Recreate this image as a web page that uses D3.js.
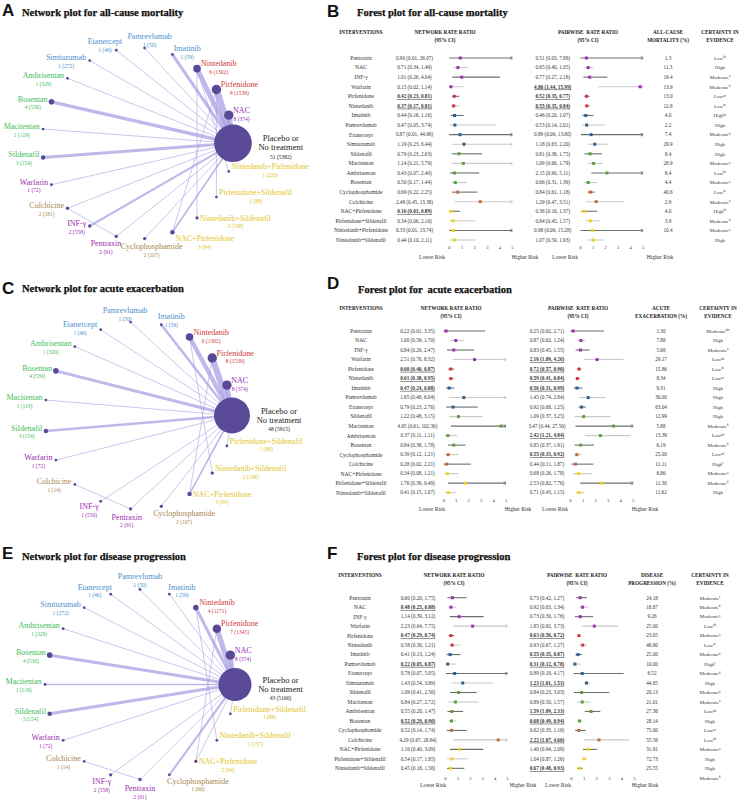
<!DOCTYPE html>
<html><head><meta charset="utf-8">
<script src="https://cdn.jsdelivr.net/npm/d3@7/dist/d3.min.js"></script>
<style>html,body{margin:0;padding:0;background:#fff;overflow:hidden}svg{display:block}</style>
</head><body>
<script>
// ---------------- DATA ----------------
const drugClass = {"Pentraxin":"pur","NAC":"pur","INF-γ":"pur","Warfarin":"pur","Pirfenidone":"red","Nintedanib":"red",
 "Imatinib":"blu","Pamrevlumab":"blu","Etanercept":"blu","Simtuzumab":"blu","Sildenafil":"grn","Macitentan":"grn",
 "Ambrisentan":"grn","Bosentan":"grn","Cyclophosphamide":"brn","Colchicine":"brn","NAC+Pirfenidone":"yel",
 "Pirfenidone+Sildenafil":"yel","Nintedanib+Pirfenidone":"yel","Nintedanib+Sildenafil":"yel","Placebo":"plc"};

// Network A: all-cause mortality
const A_nodes = ["Placebo","NAC","Pirfenidone","Nintedanib","Imatinib","Pamrevlumab","Etanercept","Simtuzumab","Ambrisentan","Bosentan","Macitentan","Sildenafil","Warfarin","Colchicine","INF-γ","Pentraxin","Cyclophosphamide","NAC+Pirfenidone","Nintedanib+Sildenafil","Pirfenidone+Sildenafil","Nintedanib+Pirfenidone"];
const A_studies = [51,8,8,6,1,1,1,1,1,4,1,3,1,2,2,2,2,3,2,1,1];
const A_participants = [5382,374,1539,1302,59,50,46,272,329,530,119,154,72,181,558,91,107,94,198,88,220];
const A_edges = [["Placebo","NAC",6.5],["Placebo","Pirfenidone",8],["Placebo","Nintedanib",5.5],["Placebo","Imatinib",3.5],
 ["Placebo","Pamrevlumab",1],["Placebo","Etanercept",1],["Placebo","Simtuzumab",1],["Placebo","Ambrisentan",1],
 ["Placebo","Bosentan",4],["Placebo","Macitentan",1],["Placebo","Sildenafil",3.5],["Placebo","Warfarin",1],
 ["Placebo","Colchicine",1],["Placebo","INF-γ",2.5],["Placebo","Pentraxin",1],["Placebo","Cyclophosphamide",1],
 ["Placebo","NAC+Pirfenidone",2],["Colchicine","Pentraxin",1],["Nintedanib","Nintedanib+Sildenafil",1],
 ["Nintedanib","Nintedanib+Pirfenidone",1],["Pirfenidone","Pirfenidone+Sildenafil",1],["Pirfenidone","NAC+Pirfenidone",1]];

// Network C: acute exacerbation
const C_nodes = ["Placebo","NAC","Pirfenidone","Nintedanib","Imatinib","Pamrevlumab","Etanercept","Ambrisentan","Bosentan","Macitentan","Sildenafil","Warfarin","Colchicine","INF-γ","Pentraxin","Cyclophosphamide","NAC+Pirfenidone","Nintedanib+Sildenafil","Pirfenidone+Sildenafil"];
const C_studies = [48,8,8,6,1,1,1,1,4,1,3,1,1,1,2,2,3,2,1];
const C_participants = [5915,374,1539,1302,59,50,46,329,530,119,154,72,14,550,91,107,94,198,88];
const C_edges = [["Placebo","NAC",5.5],["Placebo","Pirfenidone",7],["Placebo","Nintedanib",5],["Placebo","Imatinib",3],
 ["Placebo","Pamrevlumab",1],["Placebo","Etanercept",1],["Placebo","Ambrisentan",1],["Placebo","Bosentan",3.5],
 ["Placebo","Macitentan",1],["Placebo","Sildenafil",3],["Placebo","Warfarin",1],["Placebo","INF-γ",1],
 ["Placebo","Pentraxin",1],["Placebo","Cyclophosphamide",1],["Placebo","Pirfenidone+Sildenafil",1],
 ["Placebo","NAC+Pirfenidone",2],["Colchicine","Pentraxin",1],["Nintedanib","Nintedanib+Sildenafil",1],
 ["Pirfenidone","NAC+Pirfenidone",1]];

// Network E: disease progression
const E_nodes = ["Placebo","NAC","Pirfenidone","Nintedanib","Imatinib","Pamrevlumab","Etanercept","Simtuzumab","Ambrisentan","Bosentan","Macitentan","Sildenafil","Warfarin","Colchicine","INF-γ","Pentraxin","Cyclophosphamide","NAC+Pirfenidone","Nintedanib+Sildenafil","Pirfenidone+Sildenafil"];
const E_studies = [43,8,7,4,1,1,1,1,1,4,1,3,1,1,2,2,1,2,1,1];
const E_participants = [5160,374,1345,1171,59,50,46,272,329,530,119,154,72,14,558,91,60,94,137,88];
const E_edges = [["Placebo","NAC",4.5],["Placebo","Pirfenidone",6],["Placebo","Nintedanib",3.5],["Placebo","Imatinib",1],
 ["Placebo","Pamrevlumab",1],["Placebo","Etanercept",1],["Placebo","Simtuzumab",1],["Placebo","Ambrisentan",1],
 ["Placebo","Bosentan",3.5],["Placebo","Macitentan",2],["Placebo","Sildenafil",3.5],["Placebo","Warfarin",1],
 ["Placebo","INF-γ",1],["Placebo","Pentraxin",1],["Placebo","Cyclophosphamide",2.5],["Placebo","Pirfenidone+Sildenafil",1],
 ["Placebo","NAC+Pirfenidone",1],["Colchicine","Pentraxin",1],["Nintedanib","Nintedanib+Sildenafil",1],
 ["Pirfenidone","NAC+Pirfenidone",1]];

// Forest B: all-cause mortality  [estimate, lower, upper]
const B_names = ["Pentraxin","NAC","INF-γ","Warfarin","Pirfenidone","Nintedanib","Imatinib","Pamrevlumab","Etanercept","Simtuzumab","Sildenafil","Macitentan","Ambrisentan","Bosentan","Cyclophosphamide","Colchicine","NAC+Pirfenidone","Pirfenidone+Sildenafil","Nintedanib+Pirfenidone","Nintedanib+Sildenafil"];
const B_network = [[0.90,0.01,26.07],[0.71,0.34,1.49],[1.01,0.26,4.04],[0.15,0.02,1.14],[0.42,0.23,0.81],[0.37,0.17,0.81],[0.44,0.16,1.16],[0.47,0.05,3.74],[0.87,0.01,44.96],[1.19,0.23,6.44],[0.79,0.23,2.63],[1.14,0.21,5.79],[0.43,0.07,2.40],[0.50,0.17,1.44],[0.69,0.22,2.25],[2.48,0.45,13.38],[0.16,0.03,0.89],[0.34,0.06,2.10],[0.33,0.01,13.74],[0.44,0.10,2.11]];
const B_pairwise = [[0.51,0.03,7.88],[0.65,0.40,1.05],[0.77,0.27,2.18],[4.80,1.44,15.99],[0.52,0.35,0.77],[0.55,0.35,0.84],[0.46,0.20,1.07],[0.53,0.14,2.01],[0.89,0.06,13.80],[1.18,0.63,2.20],[0.81,0.38,1.75],[1.09,0.66,1.79],[2.15,0.90,5.11],[0.66,0.31,1.39],[0.84,0.61,1.18],[1.29,0.47,3.51],[0.36,0.10,1.37],[0.84,0.45,1.57],[0.98,0.06,15.28],[1.07,0.59,1.93]];
const B_percent = [1.3,11.3,19.4,13.9,13.0,12.8,4.0,2.2,7.4,29.9,8.4,28.9,8.4,4.4,40.6,2.9,4.0,3.9,10.4,null];
const B_certainty = ["Low","High","Moderate","Moderate","Low","Low","High","High","Moderate","High","High","Moderate","Low","Moderate","Low","Moderate","High","Moderate","Moderate","High"];
const B_notes = ["bc","","a","d","ac","ac","bc","","d","","","a","bc","a","ac","a","bc","d","a",""];

// Forest D: acute exacerbation
const D_names = ["Pentraxin","NAC","INF-γ","Warfarin","Pirfenidone","Nintedanib","Imatinib","Pamrevlumab","Etanercept","Sildenafil","Macitentan","Ambrisentan","Bosentan","Cyclophosphamide","Colchicine","NAC+Pirfenidone","Pirfenidone+Sildenafil","Nintedanib+Sildenafil"];
const D_network = [[0.22,0.01,3.35],[1.00,0.59,1.70],[0.84,0.29,2.47],[2.51,0.76,8.32],[0.60,0.40,0.87],[0.61,0.38,0.95],[0.47,0.24,0.88],[1.65,0.48,6.04],[0.79,0.23,2.76],[1.22,0.48,3.15],[4.65,0.61,102.36],[0.37,0.11,1.11],[0.84,0.38,1.78],[0.39,0.12,1.21],[0.28,0.02,2.21],[0.34,0.08,1.21],[1.76,0.39,9.49],[0.41,0.15,1.07]];
const D_pairwise = [[0.25,0.02,2.71],[0.87,0.62,1.24],[0.83,0.45,1.55],[2.16,1.09,4.26],[0.72,0.57,0.90],[0.59,0.41,0.84],[0.56,0.31,0.99],[1.45,0.74,2.84],[0.92,0.68,1.25],[1.09,0.37,3.25],[3.47,0.44,27.56],[2.42,1.21,4.84],[0.85,0.37,1.91],[0.55,0.33,0.92],[0.44,0.11,1.87],[0.68,0.26,1.78],[2.53,0.82,7.76],[0.71,0.43,1.15]];
const D_percent = [1.30,7.88,5.66,29.17,15.86,8.34,9.31,30.00,63.04,12.99,5.88,13.39,6.19,25.00,11.11,6.86,11.36,11.62];
const D_certainty = ["Moderate","High","Moderate","Low","Low","Low","High","High","High","High","Moderate","Low","Moderate","Low","High","Moderate","Moderate","High"];
const D_notes = ["abc","","a","ab","ac","ac","","","","","d","ab","d","ad","c","a","d",""];

// Forest F: disease progression
const F_names = ["Pentraxin","NAC","INF-γ","Warfarin","Pirfenidone","Nintedanib","Imatinib","Pamrevlumab","Etanercept","Simtuzumab","Sildenafil","Macitentan","Ambrisentan","Bosentan","Cyclophosphamide","Colchicine","NAC+Pirfenidone","Pirfenidone+Sildenafil","Nintedanib+Sildenafil"];
const F_network = [[0.60,0.20,1.75],[0.48,0.25,0.88],[1.14,0.39,3.12],[2.23,0.64,7.75],[0.47,0.29,0.74],[0.58,0.30,1.21],[0.41,0.13,1.24],[0.22,0.05,0.87],[0.78,0.07,5.95],[1.43,0.54,3.89],[1.09,0.41,2.56],[0.84,0.27,2.72],[0.55,0.20,1.47],[0.52,0.29,0.90],[0.52,0.14,1.74],[4.29,0.67,28.84],[1.16,0.40,3.09],[0.54,0.17,1.85],[0.45,0.16,1.56]];
const F_pairwise = [[0.73,0.42,1.27],[0.92,0.63,1.34],[0.73,0.30,1.76],[1.85,0.92,3.73],[0.63,0.56,0.72],[0.93,0.67,1.27],[0.55,0.35,0.87],[0.31,0.12,0.78],[0.89,0.19,4.17],[1.23,1.01,1.51],[0.84,0.23,3.03],[0.89,0.50,1.57],[1.59,1.09,2.33],[0.68,0.49,0.94],[0.62,0.33,1.16],[2.22,1.07,4.60],[1.40,0.94,2.09],[1.04,0.87,1.26],[0.67,0.48,0.93]];
const F_percent = [24.18,18.87,9.26,25.00,23.05,48.90,25.00,10.00,6.52,44.85,20.13,21.01,27.36,28.14,75.00,55.56,31.91,72.73,25.55];
const F_certainty = ["Moderate","Moderate","Moderate","Low","Moderate","Low","Moderate","High","Moderate","High","Moderate","Moderate","Low","High","Low","Low","Moderate","High","High","Moderate"];
const F_notes = ["c","d","a","ab","a","ac","d","c","d","","d","a","ab","","ac","ab","a","","","d"];

const axisTicks = [0,1,2,3,4,5];

// ---------------- DRAWING ----------------
const SERIF = '"Liberation Serif","Times New Roman",serif';
const SANS = '"Liberation Sans",Arial,sans-serif';
const labelColor = {blu:"#4a90cf",red:"#d2383a",pur:"#9a2cae",grn:"#3dbd57",brn:"#a8864f",yel:"#e3c42a"};
const markColor = {blu:"#2e5f8c",red:"#d23540",pur:"#9b31b1",grn:"#5f9c3b",brn:"#c26a3d",yel:"#efd31c"};

const svg = d3.select("body").append("svg").attr("width",744).attr("height",802).style("background","#fff");

function panelTitle(lx, ly, letter, tx, ty, title){
  svg.append("text").attr("x",lx).attr("y",ly).attr("font-family",SANS).attr("font-weight","bold")
    .attr("font-size",17).attr("fill","#111").text(letter);
  svg.append("text").attr("x",tx).attr("y",ty).attr("font-family",SERIF).attr("font-weight","bold")
    .attr("font-size",10.5).attr("fill","#111").attr("stroke","#111").attr("stroke-width",0.25)
    .style("white-space","pre").text(title);
}

function network(L, nodes, studies, parts, edges){
  const g = svg.append("g");
  const N = nodes.length;
  const rS = d3.scalePow().exponent(0.75).domain([0,51]).range([0,18.8]);
  const wS = d3.scaleLinear().domain([1,8]).range([0.8,7]);
  const P = nodes.map((n,i)=>{const a=-i*2*Math.PI/N;
    return {n,a,x:L.cx+L.R*Math.cos(a),y:L.cy+L.R*Math.sin(a),s:studies[i],p:parts[i],r:Math.max(1.4,rS(studies[i]))};});
  const M = new Map(P.map(d=>[d.n,d]));
  g.append("g").selectAll("line").data(edges).join("line")
    .attr("x1",e=>M.get(e[0]).x).attr("y1",e=>M.get(e[0]).y)
    .attr("x2",e=>M.get(e[1]).x).attr("y2",e=>M.get(e[1]).y)
    .attr("stroke","#a69de3").attr("stroke-opacity",0.72).attr("stroke-width",e=>wS(e[2]));
  g.append("g").selectAll("circle").data(P).join("circle")
    .attr("cx",d=>d.x).attr("cy",d=>d.y).attr("r",d=>d.r).attr("fill","#5a4996");
  P.forEach((d,i)=>{
    if(i===0){
      const x = d.x + d.r + 29;
      g.append("text").attr("x",x).attr("y",d.y-2).attr("text-anchor","middle").attr("font-family",SERIF).attr("font-size",8.5).attr("fill","#222").text("Placebo or");
      g.append("text").attr("x",x).attr("y",d.y+7).attr("text-anchor","middle").attr("font-family",SERIF).attr("font-size",8.5).attr("fill","#222").text("No treatment");
      g.append("text").attr("x",x).attr("y",d.y+15.5).attr("text-anchor","middle").attr("font-family",SERIF).attr("font-size",5.5).attr("fill","#222").text(`${d.s} (${d.p})`);
      return;
    }
    const col = labelColor[drugClass[d.n]];
    const c = Math.cos(d.a), s = Math.sin(d.a);
    const t = g.append("text").attr("text-anchor","middle").attr("font-family",SERIF).attr("font-size",8).attr("fill",col).text(d.n);
    const w = t.node().getComputedTextLength();
    let cx, cy;
    if(Math.abs(c) < 0.45){
      cx = d.x + c*1.5*w;
      cy = s<0 ? d.y-(d.r+12)+20*Math.abs(c) : d.y+d.r+7-8*Math.abs(c);
    } else if(c > 0){
      cx = d.x + 2 + 0.5*d.r + w/2; cy = d.y - 5 + (s>0.75?5:0);
    } else {
      cx = d.x - 3 - 0.3*d.r - w/2; cy = d.y - 3;
    }
    t.attr("x",cx).attr("y",cy+2.8);
    g.append("text").attr("x",cx).attr("y",cy+10.5).attr("text-anchor","middle").attr("font-family",SERIF)
      .attr("font-size",5.5).attr("fill",col).text(`${d.s} (${d.p})`);
  });
}

function fmtCI(v){ return `${v[0].toFixed(2)} (${v[1].toFixed(2)}, ${v[2].toFixed(2)})`; }
function isSig(v){ return v[2] < 1 || v[1] > 1; }

function forest(L, names, net, pw, pct, pctDec, cert, notes){
  const g = svg.append("g").attr("font-family",SERIF);
  const hdr = (x,y,t)=>g.append("text").attr("x",x).attr("y",y).attr("text-anchor","middle")
    .attr("font-weight","bold").attr("font-size",5.2).attr("fill","#222").text(t);
  hdr(L.intvX, L.hdrY+1.8, "INTERVENTIONS");
  hdr(L.netHX, L.hdrY+1.8, "NETWORK RATE RATIO"); hdr(L.netHX, L.hdrY+9.8, "(95% CI)");
  hdr(L.pwHX, L.hdrY+1.8, "PAIRWISE  RATE RATIO").style("white-space","pre"); hdr(L.pwHX, L.hdrY+9.8, "(95% CI)");
  hdr(L.pctX, L.hdrY+1.8, L.pctHdr[0]); hdr(L.pctX, L.hdrY+9.8, L.pctHdr[1]);
  hdr(L.certX, L.hdrY+1.8, "CERTAINTY IN"); hdr(L.certX, L.hdrY+9.8, "EVIDENCE");

  const xN = d3.scaleLinear().domain([0,5]).range(L.netAx);
  const xP = d3.scaleLinear().domain([0,5]).range(L.pwAx);
  const yR = i => L.y0 + i*L.dy;

  function ciRow(x, v, i, name){
    const y = yR(i);
    const shade = i%2===0 ? "#6e6e6e" : "#c9c9c9";
    const hi = Math.min(v[2],5);
    g.append("line").attr("x1",x(v[1])).attr("x2",x(hi)).attr("y1",y).attr("y2",y)
      .attr("stroke",shade).attr("stroke-width",1.1);
    if(v[2] > 5){
      const xe = x(5);
      g.append("path").attr("d",`M${xe-2},${y-1.6}L${xe},${y}L${xe-2},${y+1.6}M${xe},${y-1.6}L${xe},${y+1.6}`)
        .attr("fill","none").attr("stroke",shade).attr("stroke-width",0.7);
    }
    const xm = x(Math.min(v[0],5));
    g.append("rect").attr("x",xm-1.5).attr("y",y-1.5).attr("width",3).attr("height",3)
      .attr("fill",markColor[drugClass[name]]);
  }
  function ciText(x, v, i){
    const t = g.append("text").attr("x",x).attr("y",yR(i)+1.8).attr("text-anchor","middle")
      .attr("font-size",5.2).attr("fill","#333").text(fmtCI(v));
    if(isSig(v)) t.attr("font-weight","bold").style("text-decoration","underline");
  }
  names.forEach((n,i)=>{
    g.append("text").attr("x",L.nameX).attr("y",yR(i)+1.9).attr("text-anchor","middle")
      .attr("font-size",5.6).attr("fill","#333").text(n);
    ciText(L.netTX, net[i], i); ciRow(xN, net[i], i, n);
    ciText(L.pwTX, pw[i], i); ciRow(xP, pw[i], i, n);
  });
  pct.forEach((p,i)=>{ if(p==null) return;
    g.append("text").attr("x",L.pctX).attr("y",yR(i)+1.8).attr("text-anchor","middle")
      .attr("font-size",5.2).attr("fill","#333").text(p.toFixed(pctDec)); });
  cert.forEach((c,i)=>{
    const t = g.append("text").attr("x",L.certX).attr("y",yR(i)+1.8).attr("text-anchor","middle")
      .attr("font-size",5).attr("fill","#333").text(c);
    if(notes[i]) t.append("tspan").attr("font-size",3.2).attr("dy",-1.6).text(notes[i]);
  });
  [xN,xP].forEach(x=>{
    g.append("g").attr("transform",`translate(0,${L.tickY-1.7})`)
      .call(d3.axisBottom(x).tickValues(axisTicks).tickFormat(d3.format("d")).tickSize(0).tickPadding(0))
      .call(a=>a.select(".domain").remove())
      .selectAll("text").attr("font-family",SERIF).attr("font-size",4.6).attr("fill","#333");
  });
  const risk=(x,t)=>g.append("text").attr("x",x).attr("y",L.riskY+1.9).attr("text-anchor","middle")
    .attr("font-size",5.5).attr("fill","#333").text(t);
  risk(L.lowN,"Lower Risk"); risk(L.highN,"Higher Risk"); risk(L.lowP,"Lower Risk"); risk(L.highP,"Higher Risk");
}

// Titles
panelTitle(2,16,"A",22,15.5,"Network plot for all-cause mortality");
panelTitle(327,16.5,"B",357,16,"Forest plot for all-cause mortality");
panelTitle(2,293.5,"C",22,292,"Network plot for acute exacerbation");
panelTitle(327,288.5,"D",358,293,"Forest plot for  acute exacerbation");
panelTitle(2,558.5,"E",22,560,"Network plot for disease progression");
panelTitle(327,558.5,"F",357,560,"Forest plot for disease progression");

network({cx:137.5,cy:143.3,R:95.5}, A_nodes, A_studies, A_participants, A_edges);
network({cx:138.3,cy:415.5,R:93.7}, C_nodes, C_studies, C_participants, C_edges);
network({cx:140,cy:684.5,R:95}, E_nodes, E_studies, E_participants, E_edges);

forest({y0:58,dy:9.58,intvX:361,nameX:361,netTX:414.5,netAx:[449,512],pwTX:552.7,pwAx:[580,642.6],
  pctX:668,certX:720,hdrY:32,netHX:445,pwHX:588,pctHdr:["ALL-CAUSE","MORTALITY (%)"],
  tickY:247,riskY:257,lowN:432,highN:525,lowP:565,highP:660},
  B_names,B_network,B_pairwise,B_percent,1,B_certainty,B_notes);
forest({y0:331,dy:9.51,intvX:361,nameX:361,netTX:417.5,netAx:[443.3,505.6],pwTX:547,pwAx:[570,632.7],
  pctX:661,certX:718,hdrY:308,netHX:451,pwHX:578,pctHdr:["ACUTE","EXACERBATION (%)"],
  tickY:500,riskY:509,lowN:432,highN:518,lowP:555,highP:645},
  D_names,D_network,D_pairwise,D_percent,2,D_certainty,D_notes);
forest({y0:597.7,dy:9.48,intvX:360,nameX:360,netTX:418,netAx:[445,507],pwTX:547,pwAx:[571,634],
  pctX:652,certX:710,hdrY:575,netHX:454,pwHX:577,pctHdr:["DISEASE","PROGRESSION (%)"],
  tickY:778.3,riskY:785,lowN:433,highN:523,lowP:558,highP:645},
  F_names,F_network,F_pairwise,F_percent,2,F_certainty,F_notes);
</script>
</body></html>
